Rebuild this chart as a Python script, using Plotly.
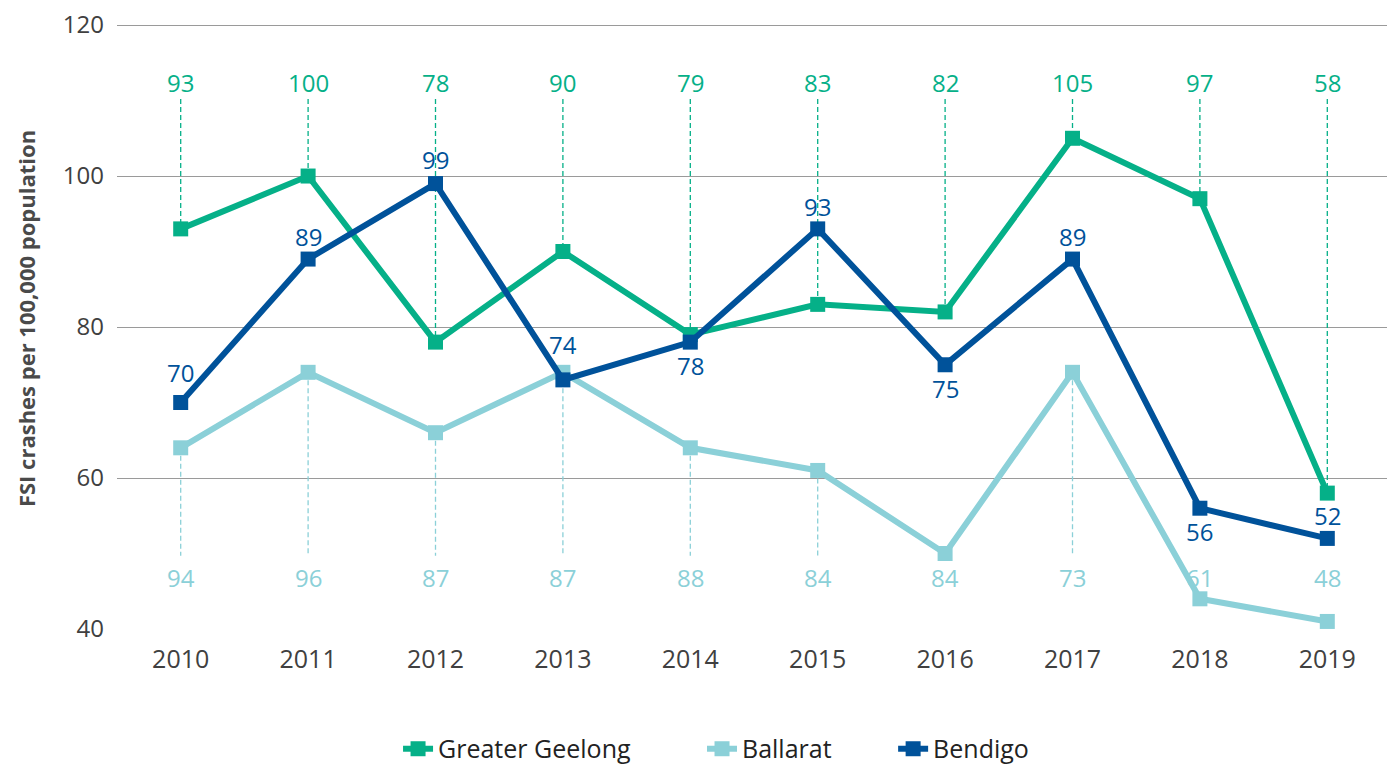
import plotly.graph_objects as go

years = ["2010", "2011", "2012", "2013", "2014", "2015", "2016", "2017", "2018", "2019"]
geelong = [93, 100, 78, 90, 79, 83, 82, 105, 97, 58]
ballarat = [64, 74, 66, 74, 64, 61, 50, 74, 44, 41]
bendigo = [70, 89, 99, 73, 78, 93, 75, 89, 56, 52]

geelong_labels = ["93", "100", "78", "90", "79", "83", "82", "105", "97", "58"]
ballarat_labels = ["94", "96", "87", "87", "88", "84", "84", "73", "61", "48"]
bendigo_labels = ["70", "89", "99", "74", "78", "93", "75", "89", "56", "52"]

GREEN = "#05B088"
LIGHT = "#8BD0D8"
DARK = "#00529A"
FONT = "'Open Sans', Lato, sans-serif"

# label placement (pixel offsets above/below the Bendigo points)
BENDIGO_LABEL_SHIFT = [30, 23, 24, 35, -23, 22, -24, 23, -23, 23]
TOP_LABEL_Y = 112.4
TOP_DASH_Y = 110.2
BOT_LABEL_Y = 46.8
BOT_DASH_Y = 49.7

fig = go.Figure()

# dashed guide lines
for i, yr in enumerate(years):
    fig.add_trace(go.Scatter(
        x=[yr, yr], y=[TOP_DASH_Y, geelong[i]], mode="lines",
        line=dict(color=GREEN, width=1.3, dash="5px,3px"),
        showlegend=False, hoverinfo="skip"))
    if ballarat[i] > BOT_DASH_Y:
        fig.add_trace(go.Scatter(
            x=[yr, yr], y=[ballarat[i], BOT_DASH_Y], mode="lines",
            line=dict(color=LIGHT, width=1.3, dash="5px,3px"),
            showlegend=False, hoverinfo="skip"))

for name, vals, col, lg in [("Greater Geelong", geelong, GREEN, "legend"),
                            ("Ballarat", ballarat, LIGHT, "legend2"),
                            ("Bendigo", bendigo, DARK, "legend3")]:
    fig.add_trace(go.Scatter(
        x=years, y=vals, name=name, mode="lines+markers", legend=lg,
        line=dict(color=col, width=6),
        marker=dict(symbol="square", size=15, color=col)))

annotations = []
for i, yr in enumerate(years):
    annotations.append(dict(x=i, y=TOP_LABEL_Y, xref="x", yref="y", text=geelong_labels[i],
                            showarrow=False, font=dict(family=FONT, size=24, color=GREEN)))
    annotations.append(dict(x=i, y=BOT_LABEL_Y, xref="x", yref="y", text=ballarat_labels[i],
                            showarrow=False, font=dict(family=FONT, size=24, color=LIGHT)))
    annotations.append(dict(x=i, y=bendigo[i], xref="x", yref="y", text=bendigo_labels[i],
                            yshift=BENDIGO_LABEL_SHIFT[i], showarrow=False,
                            font=dict(family=FONT, size=24, color=DARK)))

annotations.append(dict(x=-0.0848, y=0.513, xref="paper", yref="paper",
                        text="<b>FSI crashes per 100,000 population</b>", textangle=-90,
                        showarrow=False, xanchor="left", yanchor="middle",
                        font=dict(family=FONT, size=22, color="#4a4a4a")))

legend_common = dict(orientation="h", y=-0.198, yanchor="middle", xanchor="left",
                     font=dict(family=FONT, size=25, color="#222222"),
                     bgcolor="rgba(0,0,0,0)")

fig.update_layout(
    width=1387, height=759,
    margin=dict(l=109, r=4, t=15, b=138, autoexpand=False),
    paper_bgcolor="white", plot_bgcolor="white",
    font=dict(family=FONT, color="#404040"),
    annotations=annotations,
    showlegend=True,
    legend=dict(x=0.2206, **legend_common),
    legend2=dict(x=0.4592, **legend_common),
    legend3=dict(x=0.6092, **legend_common),
    xaxis=dict(type="category", range=[-0.5, 9.5], showgrid=False, zeroline=False,
               showline=False, ticks="", ticklabelstandoff=13, automargin=False,
               tickfont=dict(family=FONT, size=25, color="#404040")),
    yaxis=dict(range=[40, 120.27], tickvals=[40, 60, 80, 100, 120], showgrid=True,
               gridcolor="#9a9a9a", gridwidth=1.2, zeroline=False, showline=False,
               ticks="", ticklabelstandoff=12, automargin=False, ticklabeloverflow="allow",
               tickfont=dict(family=FONT, size=24, color="#404040")),
)

fig.write_html("out.html")
